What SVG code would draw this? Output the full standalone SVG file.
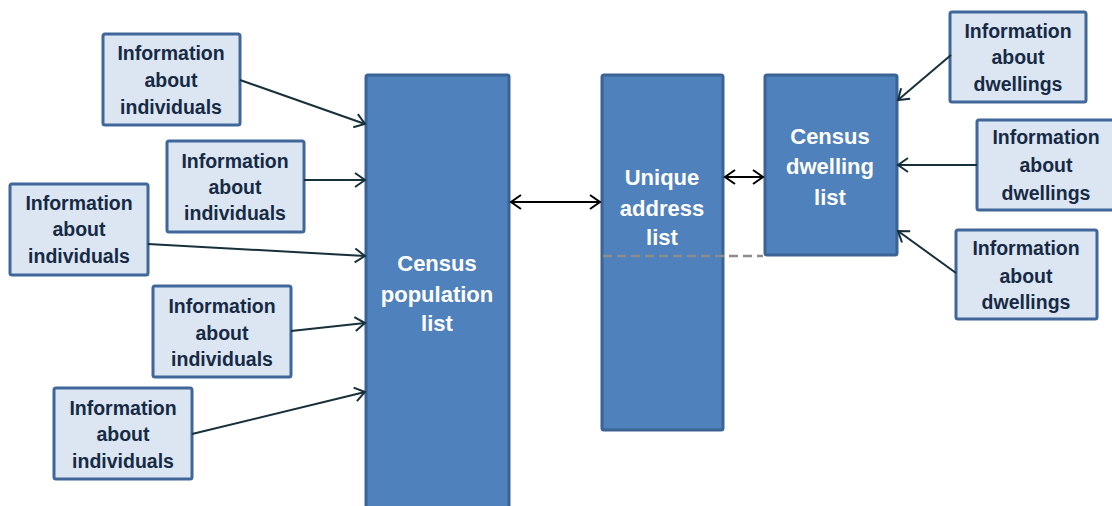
<svg xmlns="http://www.w3.org/2000/svg" width="1112" height="506" viewBox="0 0 1112 506">
<style>
.src rect{fill:#dce6f2;stroke:#41679a;stroke-width:3}
.src text{font-family:"Liberation Sans",Arial,sans-serif;font-weight:bold;font-size:19.5px;fill:#172a45;text-anchor:middle}
.big rect{fill:#4f81bd;stroke:#3b6394;stroke-width:3}
.big text{font-family:"Liberation Sans",Arial,sans-serif;font-weight:bold;font-size:22px;fill:#ffffff;text-anchor:middle}
.in{stroke:#17303a;stroke-width:2;fill:none;marker-end:url(#ah)}
.bi{stroke:#000;stroke-width:2;fill:none;marker-start:url(#ahs);marker-end:url(#ahk)}
</style>
<defs>
<marker id="ah" markerWidth="14" markerHeight="16" refX="12" refY="8" orient="auto" markerUnits="userSpaceOnUse"><path d="M2,1 L12,8 L2,15" fill="none" stroke="#17303a" stroke-width="2"/></marker>
<marker id="ahk" markerWidth="14" markerHeight="16" refX="12" refY="8" orient="auto" markerUnits="userSpaceOnUse"><path d="M2,1 L12,8 L2,15" fill="none" stroke="#000" stroke-width="2"/></marker>
<marker id="ahs" markerWidth="14" markerHeight="16" refX="2" refY="8" orient="auto" markerUnits="userSpaceOnUse"><path d="M12,1 L2,8 L12,15" fill="none" stroke="#000" stroke-width="2"/></marker>
</defs>

<g id="census-population-list" class="big">
<rect x="366" y="75" width="143" height="440" rx="2"/>
<text x="437" y="271">Census</text>
<text x="437" y="302">population</text>
<text x="437" y="331">list</text>
</g>
<g id="unique-address-list" class="big">
<rect x="602" y="75" width="121" height="355" rx="2"/>
<text x="662" y="185">Unique</text>
<text x="662" y="216">address</text>
<text x="662" y="245">list</text>
</g>
<g id="census-dwelling-list" class="big">
<rect x="765" y="75" width="132" height="180" rx="2"/>
<text x="830" y="144">Census</text>
<text x="830" y="174">dwelling</text>
<text x="830" y="205">list</text>
</g>

<g id="ind1" class="src"><rect x="103" y="34" width="137" height="91" rx="2"/>
<text x="171" y="60">Information</text><text x="171" y="87">about</text><text x="171" y="114">individuals</text></g>
<g id="ind2" class="src"><rect x="167" y="141" width="137" height="91" rx="2"/>
<text x="235" y="168">Information</text><text x="235" y="194">about</text><text x="235" y="220">individuals</text></g>
<g id="ind3" class="src"><rect x="10" y="184" width="138" height="91" rx="2"/>
<text x="79" y="210">Information</text><text x="79" y="236">about</text><text x="79" y="263">individuals</text></g>
<g id="ind4" class="src"><rect x="153" y="286" width="138" height="91" rx="2"/>
<text x="222" y="313">Information</text><text x="222" y="340">about</text><text x="222" y="366">individuals</text></g>
<g id="ind5" class="src"><rect x="54" y="388" width="138" height="91" rx="2"/>
<text x="123" y="415">Information</text><text x="123" y="441">about</text><text x="123" y="468">individuals</text></g>

<g id="dw1" class="src"><rect x="950" y="12" width="136" height="90" rx="2"/>
<text x="1018" y="38">Information</text><text x="1018" y="64">about</text><text x="1018" y="91">dwellings</text></g>
<g id="dw2" class="src"><rect x="977" y="120" width="140" height="90" rx="2"/>
<text x="1046" y="144">Information</text><text x="1046" y="172">about</text><text x="1046" y="200">dwellings</text></g>
<g id="dw3" class="src"><rect x="956" y="230" width="141" height="89" rx="2"/>
<text x="1026" y="255">Information</text><text x="1026" y="283">about</text><text x="1026" y="309">dwellings</text></g>

<g id="connectors">
<line class="in" x1="240" y1="80" x2="365" y2="124"/>
<line class="in" x1="304" y1="180" x2="365" y2="180"/>
<line class="in" x1="148" y1="244" x2="365" y2="256"/>
<line class="in" x1="291" y1="331" x2="365" y2="323"/>
<line class="in" x1="192" y1="434" x2="365" y2="392"/>
<line class="in" x1="951" y1="55" x2="898" y2="100"/>
<line class="in" x1="977" y1="165" x2="898" y2="165"/>
<line class="in" x1="956" y1="273" x2="898" y2="231"/>
<line class="bi" x1="511" y1="202" x2="600" y2="202"/>
<line class="bi" x1="725" y1="177" x2="763" y2="177"/>
<line x1="603" y1="256" x2="763" y2="256" stroke="#8c8c8c" stroke-width="2.5" stroke-dasharray="9,5"/>
</g>
</svg>
